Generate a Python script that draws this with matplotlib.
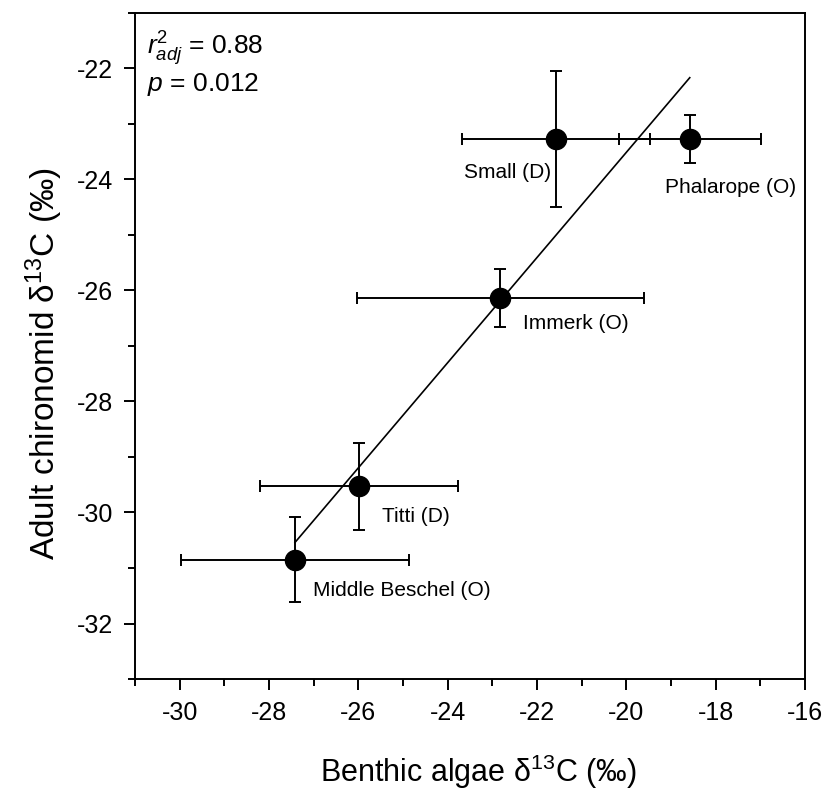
import numpy as np
import matplotlib
matplotlib.use("Agg")
import matplotlib.pyplot as plt
from matplotlib.ticker import MultipleLocator

plt.rcParams["font.family"] = ["Liberation Sans", "DejaVu Sans"]
plt.rcParams["mathtext.fontset"] = "custom"
plt.rcParams["mathtext.rm"] = "Liberation Sans"
plt.rcParams["mathtext.it"] = "Liberation Sans:italic"
plt.rcParams["axes.unicode_minus"] = False

# lake means (benthic algae vs adult chironomid d13C) with +/- SE
lakes = ["Middle Beschel (O)", "Titti (D)", "Immerk (O)", "Small (D)", "Phalarope (O)"]
algae = [-27.42, -25.98, -22.82, -21.57, -18.58]
algae_err = [2.55, 2.22, 3.22, 2.10, 1.59]
chiro = [-30.85, -29.53, -26.14, -23.27, -23.28]
chiro_err = [0.77, 0.78, 0.52, 1.22, 0.43]

# label offsets in points (dx, dy) and alignment
label_pos = {
    "Middle Beschel (O)": (13, -22, "left"),
    "Titti (D)": (16, -22, "left"),
    "Immerk (O)": (16, -18, "left"),
    "Small (D)": (-4, -24, "right"),
    "Phalarope (O)": (-18, -35, "left"),
}

fig = plt.figure(figsize=(8.29, 7.97), dpi=100)
ax = fig.add_axes([0.163, 0.148, 0.808, 0.836])

ax.errorbar(algae, chiro, xerr=algae_err, yerr=chiro_err, fmt="o",
            color="k", ms=14.5, elinewidth=1.4, capsize=4.5, capthick=1.4,
            zorder=3)

# least-squares line over the data range
b, a = np.polyfit(algae, chiro, 1)
xs = np.array([min(algae), max(algae)])
ax.plot(xs, a + b * xs, color="k", lw=1.2, zorder=4)

for name, x, y in zip(lakes, algae, chiro):
    dx, dy, ha = label_pos[name]
    ax.annotate(name, (x, y), xytext=(dx, dy), textcoords="offset points",
                ha=ha, va="center", fontsize=15)

ax.text(0.018, 0.975, r"$r^2_{adj}$ = 0.88", transform=ax.transAxes,
        fontsize=19, va="top", ha="left")
ax.text(0.018, 0.912, r"$p$ = 0.012", transform=ax.transAxes,
        fontsize=19, va="top", ha="left")

ax.set_xlim(-31, -16)
ax.set_ylim(-33, -21)
ax.xaxis.set_minor_locator(MultipleLocator(1))
ax.yaxis.set_minor_locator(MultipleLocator(1))
ax.set_xticks(np.arange(-30, -15, 2))
ax.set_yticks(np.arange(-32, -21, 2))
ax.tick_params(which="major", direction="out", length=8, width=1.4,
               labelsize=18, pad=8)
ax.tick_params(which="minor", direction="out", length=5, width=1.4)
for s in ax.spines.values():
    s.set_linewidth(1.4)

ax.set_xlabel("Benthic algae δ$^{13}$C (‰)", fontsize=22, labelpad=20)
ax.xaxis.label.set_x(0.513)
ax.set_ylabel("Adult chironomid δ$^{13}$C (‰)", fontsize=24, labelpad=8)
ax.yaxis.label.set_y(0.473)

fig.savefig("out.png", dpi=100)
